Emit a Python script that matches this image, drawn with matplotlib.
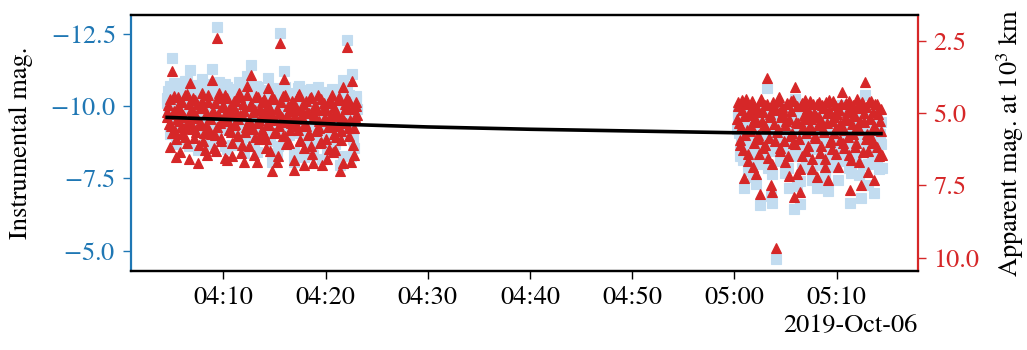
import numpy as np
import pandas as pd
import matplotlib
matplotlib.use("Agg")
import matplotlib.pyplot as plt
import matplotlib.dates as mdates
from matplotlib.ticker import FuncFormatter

plt.rcParams['font.family'] = ['STIXGeneral', 'DejaVu Serif']
plt.rcParams['mathtext.fontset'] = 'stix'
plt.rcParams['font.size'] = 19

# ---------------- data ----------------
# two interleaved exposure sequences per pass (8 s cadence each, offset by 4 s)
left_start_a = "2019-10-06 04:04:28"
left_start_b = "2019-10-06 04:04:32"
right_start_a = "2019-10-06 05:00:14"
right_start_b = "2019-10-06 05:00:18"
cadence_s = 8

# Instrumental magnitudes (left axis, blue squares)
inst_left_a = [
    -10.09, -10.50, -9.03, -9.76, -11.66, -10.29, -9.58, -8.68, -10.76, -9.93,
    -10.33, -9.47, -10.16, -10.85, -9.70, -9.19, -10.54, -11.25, -9.88, -10.23,
    -9.35, -10.66, -10.04, -8.47, -10.40, -9.79, -10.92, -9.52, -8.86, -10.13,
    -10.53, -9.57, -9.94, -11.29, -10.21, -9.38, -8.83, -12.74, -10.67, -9.79,
    -9.20, -10.42, -10.04, -10.76, -8.52, -9.89, -10.30, -9.51, -8.65, -10.58,
    -9.76, -10.19, -9.34, -10.83, -10.07, -9.03, -10.40, -8.39, -9.62, -11.03,
    -9.85, -10.32, -11.40, -9.54, -8.64, -10.18, -9.76, -10.65, -9.21, -9.94,
    -10.46, -9.37, -10.09, -8.88, -10.96, -9.68, -10.23, -8.08, -9.90, -10.57,
    -9.43, -8.39, -10.10, -12.51, -9.73, -10.62, -11.20, -9.25, -9.96, -10.29,
    -8.98, -9.67, -10.45, -8.05, -9.90, -10.15, -9.43, -10.68, -9.11, -9.81,
    -10.33, -8.23, -9.59, -10.08, -9.32, -10.56, -8.88, -8.29, -10.00, -10.21,
    -9.46, -10.65, -9.70, -8.99, -8.18, -10.32, -9.80, -10.08, -9.49, -8.73,
    -10.44, -9.63, -8.63, -10.19, -9.14, -9.88, -10.55, -7.97, -9.36, -10.88,
    -9.71, -10.11, -12.26, -9.45, -10.38, -8.28, -11.09, -8.53, -9.84, -10.22,
]
inst_left_b = [
    -10.26, -9.83, -10.69, -9.51, -10.19, -10.80, -9.30, -10.02, -10.45, -8.86,
    -9.74, -10.59, -10.08, -9.39, -10.87, -9.95, -8.61, -10.32, -9.66, -10.74,
    -10.13, -9.57, -10.51, -9.11, -9.90, -10.63, -9.25, -10.38, -9.75, -8.70,
    -10.76, -9.99, -9.42, -10.16, -8.95, -10.49, -9.66, -10.11, -10.84, -9.30,
    -9.86, -10.35, -8.60, -10.03, -10.66, -9.55, -10.15, -9.13, -10.41, -9.72,
    -10.55, -9.37, -9.95, -10.71, -8.77, -10.09, -10.16, -9.42, -10.72, -9.75,
    -8.94, -10.41, -9.58, -10.12, -9.26, -10.69, -8.41, -9.86, -10.27, -9.50,
    -9.98, -10.56, -9.19, -9.72, -10.37, -8.79, -10.07, -10.63, -9.41, -9.84,
    -10.24, -8.61, -9.65, -10.48, -9.88, -9.23, -10.67, -8.95, -9.71, -10.09,
    -9.45, -10.36, -9.82, -8.41, -10.24, -9.57, -10.61, -9.06, -9.94, -10.15,
    -8.81, -9.68, -10.46, -9.28, -10.02, -10.58, -8.63, -9.85, -10.30, -9.41,
    -10.12, -9.51, -8.93, -10.48, -9.71, -10.14, -9.09, -8.40, -10.33, -9.58,
    -9.92, -10.59, -9.27, -8.70, -10.00, -9.53, -10.42, -9.05, -9.84, -8.26,
    -10.29, -9.65, -10.50, -9.18, -9.74, -10.12, -8.86, -9.48, -10.35, -9.91,
]
inst_right_a = [
    -9.19, -9.77, -8.28, -8.92, -9.52, -7.15, -8.64, -9.88, -8.00, -9.35,
    -8.77, -9.61, -7.55, -9.08, -7.29, -9.45, -8.50, -6.59, -9.82, -8.18,
    -9.00, -9.69, -10.61, -7.85, -9.26, -6.90, -6.66, -9.56, -8.43, -4.72,
    -8.85, -9.94, -8.10, -9.38, -9.48, -7.70, -9.07, -9.68, -7.17, -8.54,
    -9.77, -8.30, -6.45, -10.25, -7.25, -8.99, -6.61, -9.58, -7.87, -9.16,
    -9.81, -8.65, -8.20, -9.37, -8.91, -7.43, -9.66, -8.50, -9.26, -7.15,
    -9.74, -7.97, -9.09, -9.52, -8.68, -7.75, -9.34, -7.05, -9.79, -8.41,
    -8.10, -9.23, -9.58, -8.79, -7.43, -9.41, -8.93, -10.03, -8.26, -8.71,
    -9.67, -9.08, -7.86, -6.64, -9.45, -8.57, -9.24, -8.13, -9.78, -8.84,
    -7.61, -6.81, -9.51, -9.00, -10.38, -8.43, -7.99, -9.69, -9.15, -8.29,
    -9.34, -6.98, -8.73, -9.61, -7.81, -9.02, -9.46,
]
inst_right_b = [
    -9.66, -9.05, -8.48, -9.84, -8.12, -9.30, -9.73, -8.82, -7.75, -9.45,
    -8.96, -9.80, -8.38, -9.22, -9.57, -8.65, -8.00, -9.88, -9.11, -9.42,
    -8.28, -8.90, -9.70, -8.54, -9.37, -7.65, -9.78, -9.03, -9.51, -8.74,
    -9.82, -8.20, -9.26, -9.60, -8.45, -8.99, -9.69, -7.85, -9.13, -9.42,
    -8.65, -9.80, -8.27, -9.04, -9.59, -8.47, -7.40, -9.71, -8.88, -9.29,
    -8.05, -9.48, -8.75, -9.76, -9.15, -7.77, -9.36, -8.55, -9.67, -8.93,
    -9.23, -8.20, -9.62, -8.80, -7.50, -9.74, -9.01, -9.45, -8.35, -9.09,
    -9.78, -8.67, -7.89, -9.27, -9.50, -8.39, -9.62, -8.82, -8.09, -9.15,
    -9.35, -8.48, -9.71, -7.69, -8.93, -9.59, -9.21, -8.26, -9.47, -8.74,
    -9.03, -9.68, -7.96, -9.31, -9.53, -8.60, -7.26, -9.12, -9.73, -8.41,
    -8.86, -9.62, -8.13, -9.29, -9.45, -8.68, -7.86,
]

# Apparent magnitudes at 10^3 km (right axis, red triangles)
app_left_a = [
    5.12, 4.71, 6.18, 5.45, 3.55, 4.92, 5.63, 6.53, 4.45, 5.28,
    4.88, 5.74, 5.05, 4.36, 5.51, 6.02, 4.67, 3.96, 5.33, 4.98,
    5.86, 4.55, 5.17, 6.74, 4.81, 5.42, 4.29, 5.69, 6.29, 5.02,
    4.62, 5.58, 5.21, 3.86, 4.94, 5.77, 6.32, 2.41, 4.48, 5.36,
    5.95, 4.73, 5.11, 4.39, 6.63, 5.26, 4.85, 5.64, 6.50, 4.57,
    5.39, 4.96, 5.81, 4.32, 5.08, 6.12, 4.69, 6.70, 5.47, 4.06,
    5.24, 4.77, 3.69, 5.55, 6.45, 4.91, 5.33, 4.44, 5.88, 5.15,
    4.63, 5.72, 5.00, 6.21, 4.13, 5.41, 4.86, 7.01, 5.19, 4.52,
    5.66, 6.70, 4.99, 2.58, 5.30, 4.41, 3.83, 5.78, 5.07, 4.74,
    6.05, 5.36, 4.58, 6.98, 5.13, 4.88, 5.60, 4.35, 5.92, 5.22,
    4.70, 6.80, 5.44, 4.95, 5.71, 4.47, 6.15, 6.74, 5.03, 4.82,
    5.57, 4.38, 5.28, 5.99, 6.80, 4.66, 5.18, 4.90, 5.49, 6.25,
    4.54, 5.35, 6.35, 4.79, 5.84, 5.10, 4.43, 7.01, 5.62, 4.10,
    5.27, 4.87, 2.72, 5.53, 4.60, 6.70, 3.89, 6.45, 5.14, 4.76,
]
app_left_b = [
    4.95, 5.38, 4.52, 5.70, 5.02, 4.41, 5.91, 5.19, 4.76, 6.35,
    5.47, 4.62, 5.13, 5.82, 4.34, 5.26, 6.60, 4.89, 5.55, 4.47,
    5.08, 5.64, 4.70, 6.10, 5.31, 4.58, 5.96, 4.83, 5.40, 6.45,
    4.39, 5.16, 5.73, 4.99, 6.20, 4.66, 5.49, 5.04, 4.31, 5.85,
    5.29, 4.80, 6.55, 5.12, 4.49, 5.60, 5.00, 6.02, 4.74, 5.43,
    4.60, 5.78, 5.20, 4.44, 6.38, 5.06, 4.93, 5.67, 4.37, 5.34,
    6.15, 4.68, 5.51, 4.97, 5.83, 4.40, 6.68, 5.23, 4.82, 5.59,
    5.11, 4.53, 5.90, 5.37, 4.72, 6.30, 5.02, 4.46, 5.68, 5.25,
    4.85, 6.48, 5.44, 4.61, 5.15, 5.80, 4.36, 6.08, 5.32, 4.94,
    5.58, 4.67, 5.21, 6.62, 4.79, 5.46, 4.42, 5.97, 5.09, 4.88,
    6.22, 5.35, 4.57, 5.75, 5.01, 4.45, 6.40, 5.18, 4.73, 5.62,
    4.91, 5.52, 6.05, 4.50, 5.27, 4.84, 5.89, 6.58, 4.65, 5.40,
    5.06, 4.39, 5.71, 6.28, 4.98, 5.45, 4.56, 5.93, 5.14, 6.72,
    4.69, 5.33, 4.48, 5.80, 5.24, 4.86, 6.12, 5.50, 4.63, 5.07,
]
app_right_a = [
    5.21, 4.63, 6.12, 5.48, 4.88, 7.25, 5.76, 4.52, 6.40, 5.05,
    5.63, 4.79, 6.85, 5.32, 7.11, 4.95, 5.90, 7.81, 4.58, 6.22,
    5.40, 4.71, 3.79, 6.55, 5.14, 7.50, 7.74, 4.84, 5.97, 9.68,
    5.55, 4.46, 6.30, 5.02, 4.92, 6.70, 5.28, 4.67, 7.18, 5.81,
    4.58, 6.05, 7.90, 4.10, 7.10, 5.36, 7.74, 4.77, 6.48, 5.19,
    4.54, 5.70, 6.15, 4.98, 5.44, 6.92, 4.69, 5.85, 5.09, 7.20,
    4.61, 6.38, 5.26, 4.83, 5.67, 6.60, 5.01, 7.30, 4.56, 5.94,
    6.25, 5.12, 4.73, 5.52, 6.88, 4.90, 5.38, 4.28, 6.05, 5.60,
    4.64, 5.23, 6.45, 7.67, 4.86, 5.74, 5.07, 6.18, 4.53, 5.47,
    6.70, 7.50, 4.80, 5.31, 3.93, 5.88, 6.32, 4.62, 5.16, 6.02,
    4.97, 7.33, 5.58, 4.70, 6.50, 5.29, 4.85,
]
app_right_b = [
    4.74, 5.35, 5.92, 4.56, 6.28, 5.10, 4.67, 5.58, 6.65, 4.95,
    5.44, 4.60, 6.02, 5.18, 4.83, 5.75, 6.40, 4.52, 5.29, 4.98,
    6.12, 5.50, 4.70, 5.86, 5.03, 6.75, 4.62, 5.37, 4.89, 5.66,
    4.58, 6.20, 5.14, 4.80, 5.95, 5.41, 4.66, 6.50, 5.22, 4.93,
    5.70, 4.55, 6.08, 5.31, 4.76, 5.88, 6.95, 4.64, 5.47, 5.06,
    6.30, 4.87, 5.60, 4.59, 5.20, 6.58, 4.99, 5.80, 4.68, 5.42,
    5.12, 6.15, 4.73, 5.55, 6.85, 4.61, 5.34, 4.90, 6.00, 5.26,
    4.57, 5.68, 6.42, 5.04, 4.81, 5.92, 4.69, 5.49, 6.22, 5.16,
    4.96, 5.83, 4.60, 6.62, 5.38, 4.72, 5.10, 6.05, 4.84, 5.57,
    5.28, 4.63, 6.35, 5.00, 4.78, 5.71, 7.05, 5.19, 4.58, 5.90,
    5.45, 4.69, 6.18, 5.02, 4.86, 5.63, 6.45,
]

# Model curve (apparent mag.)
model_times = ["2019-10-06 04:04:30", "2019-10-06 04:12:00", "2019-10-06 04:21:00",
               "2019-10-06 04:30:00", "2019-10-06 04:40:00", "2019-10-06 04:50:00",
               "2019-10-06 05:00:00", "2019-10-06 05:07:00", "2019-10-06 05:14:20"]
model_mag = [5.15, 5.24, 5.38, 5.48, 5.56, 5.62, 5.68, 5.70, 5.71]

inst_ylim = (-4.31, -13.14)
app_ylim = (10.45, 1.61)
inst_ticks = [-12.5, -10.0, -7.5, -5.0]
app_ticks = [2.5, 5.0, 7.5, 10.0]

# ---------------- plot ----------------
def rng(start, n):
    return pd.date_range(start, periods=n, freq=f"{cadence_s}s")

times = (rng(left_start_a, len(inst_left_a))
         .append(rng(left_start_b, len(inst_left_b)))
         .append(rng(right_start_a, len(inst_right_a)))
         .append(rng(right_start_b, len(inst_right_b))))
inst = np.array(inst_left_a + inst_left_b + inst_right_a + inst_right_b)
app = np.array(app_left_a + app_left_b + app_right_a + app_right_b)

blue = '#1f77b4'
red = '#d62728'
light = '#c2dcf0'

fig = plt.figure(figsize=(10.27, 3.5), dpi=100)
ax = fig.add_axes([0.1276, 0.2266, 0.7660, 0.7305])
ax2 = ax.twinx()

ax.plot(times, inst, 's', color=light, ms=7, mew=0.8, ls='none')
ax2.plot(times, app, '^', color=red, ms=7, mew=0.8, ls='none')
ax2.plot(pd.to_datetime(model_times), model_mag, '-', color='black', lw=2.6)

ax.set_ylim(*inst_ylim)
ax2.set_ylim(*app_ylim)
ax.set_yticks(inst_ticks)
ax2.set_yticks(app_ticks)


def mag_fmt(v, pos):
    if v < 0:
        return r"$-$" + f"{abs(v):.1f}"
    return f"{v:.1f}"


ax.yaxis.set_major_formatter(FuncFormatter(mag_fmt))

loc = mdates.MinuteLocator(byminute=range(0, 60, 10))
ax.xaxis.set_major_locator(loc)
ax.xaxis.set_major_formatter(mdates.ConciseDateFormatter(loc))

ax.set_ylabel('Instrumental mag.')
ax.yaxis.set_label_coords(-0.1246, 0.5)
ax2.set_ylabel(r'Apparent mag. at $10^3$ km', labelpad=11)

ax.tick_params(axis='y', colors=blue, labelcolor=blue, length=6, width=1, pad=5)
ax2.tick_params(axis='y', colors=red, labelcolor=red, length=6, width=1, pad=5)
ax.tick_params(axis='x', length=6, width=1, pad=5)

for a in (ax, ax2):
    for s in a.spines.values():
        s.set_linewidth(1.6)
ax.spines['left'].set_color(blue)
ax2.spines['left'].set_visible(False)
ax.spines['right'].set_visible(False)
ax2.spines['right'].set_color(red)

fig.savefig('out.png', dpi=100)
